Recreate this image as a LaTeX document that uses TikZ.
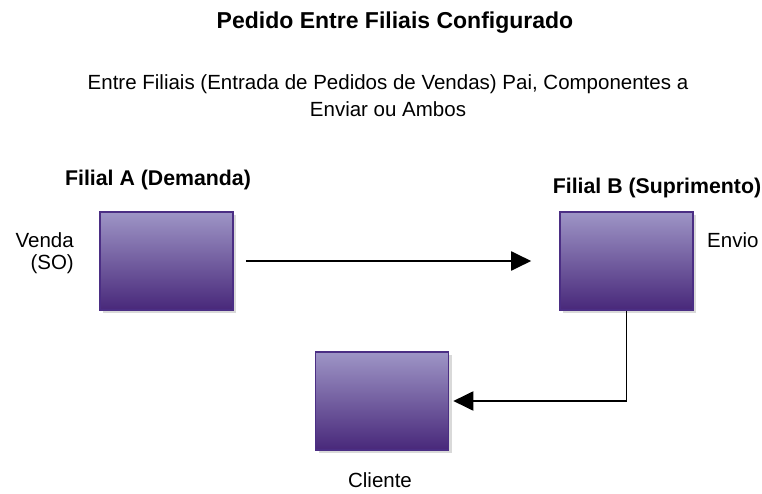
\documentclass[tikz,border=0pt]{standalone}
\usepackage{fontspec}
\setmainfont{Liberation Sans}
\usepackage{tikz}
\usetikzlibrary{arrows.meta,positioning,shadows}
\definecolor{lilac}{HTML}{9E95C6}
\definecolor{grape}{HTML}{48287A}
\definecolor{grapeline}{HTML}{4B2E84}
\tikzset{
    %Define standard arrow tip
    >={Triangle[length=20bp,width=19bp]},
    %Define style for boxes
    filial/.style={
           rectangle,
           draw=grapeline, line width=1.6bp,
           top color=lilac,
           bottom color=grape,
           minimum width=133bp,
           minimum height=98bp,
           drop shadow={shadow xshift=3bp,shadow yshift=-3bp,
                        fill=black!15,opacity=1}
           },
    %Define style for texts
    titulo/.style={
           font=\fontsize{23bp}{27bp}\selectfont\bfseries,
           inner sep=0pt},
    cabeca/.style={
           font=\fontsize{21.3bp}{25bp}\selectfont\bfseries,
           inner sep=0pt},
    rotulo/.style={
           font=\fontsize{20.5bp}{27bp}\selectfont,
           inner sep=0pt},
    % Define arrow style
    seta/.style={
           ->,
           line width=2bp},
}
\begin{document}
\begin{tikzpicture}[x=1bp,y=-1bp]
\useasboundingbox (0,0) rectangle (762,494);

 %titles
\node[titulo] (titulo) at (395,23) {Pedido Entre Filiais Configurado};
\node[rotulo, align=center] (sub) at (388,96)
   {Entre Filiais (Entrada de Pedidos de Vendas) Pai, Componentes a\\Enviar ou Ambos};

 %boxes
\node[filial] (filA) at (166.5,261) {};
\node[filial] (filB) at (626.5,261) {};
\node[filial] (cli) at (382,401) {};

 %labels
\node[cabeca] (demanda) at (158,180) {Filial A (Demanda)};
\node[cabeca] (suprimento) at (657,188) {Filial B (Suprimento)};
\node[rotulo, align=right, anchor=east,
      font=\fontsize{20.5bp}{22bp}\selectfont] (venda) at (74,253) {Venda\\(SO)};
\node[rotulo, anchor=west] (envio) at (707,240) {Envio};
\node[rotulo] (cliente) at (380,480) {Cliente};

 %connectors
\coordinate (canto) at (filB.south |- cli.east);
\draw[seta, shorten <=12bp, shorten >=28bp] (filA.east) -- (filB.west);
\draw[line width=1.3bp] (filB.south) -- (canto);
\draw[seta, shorten >=4bp] (canto) -- (cli.east);
\end{tikzpicture}
\end{document}
